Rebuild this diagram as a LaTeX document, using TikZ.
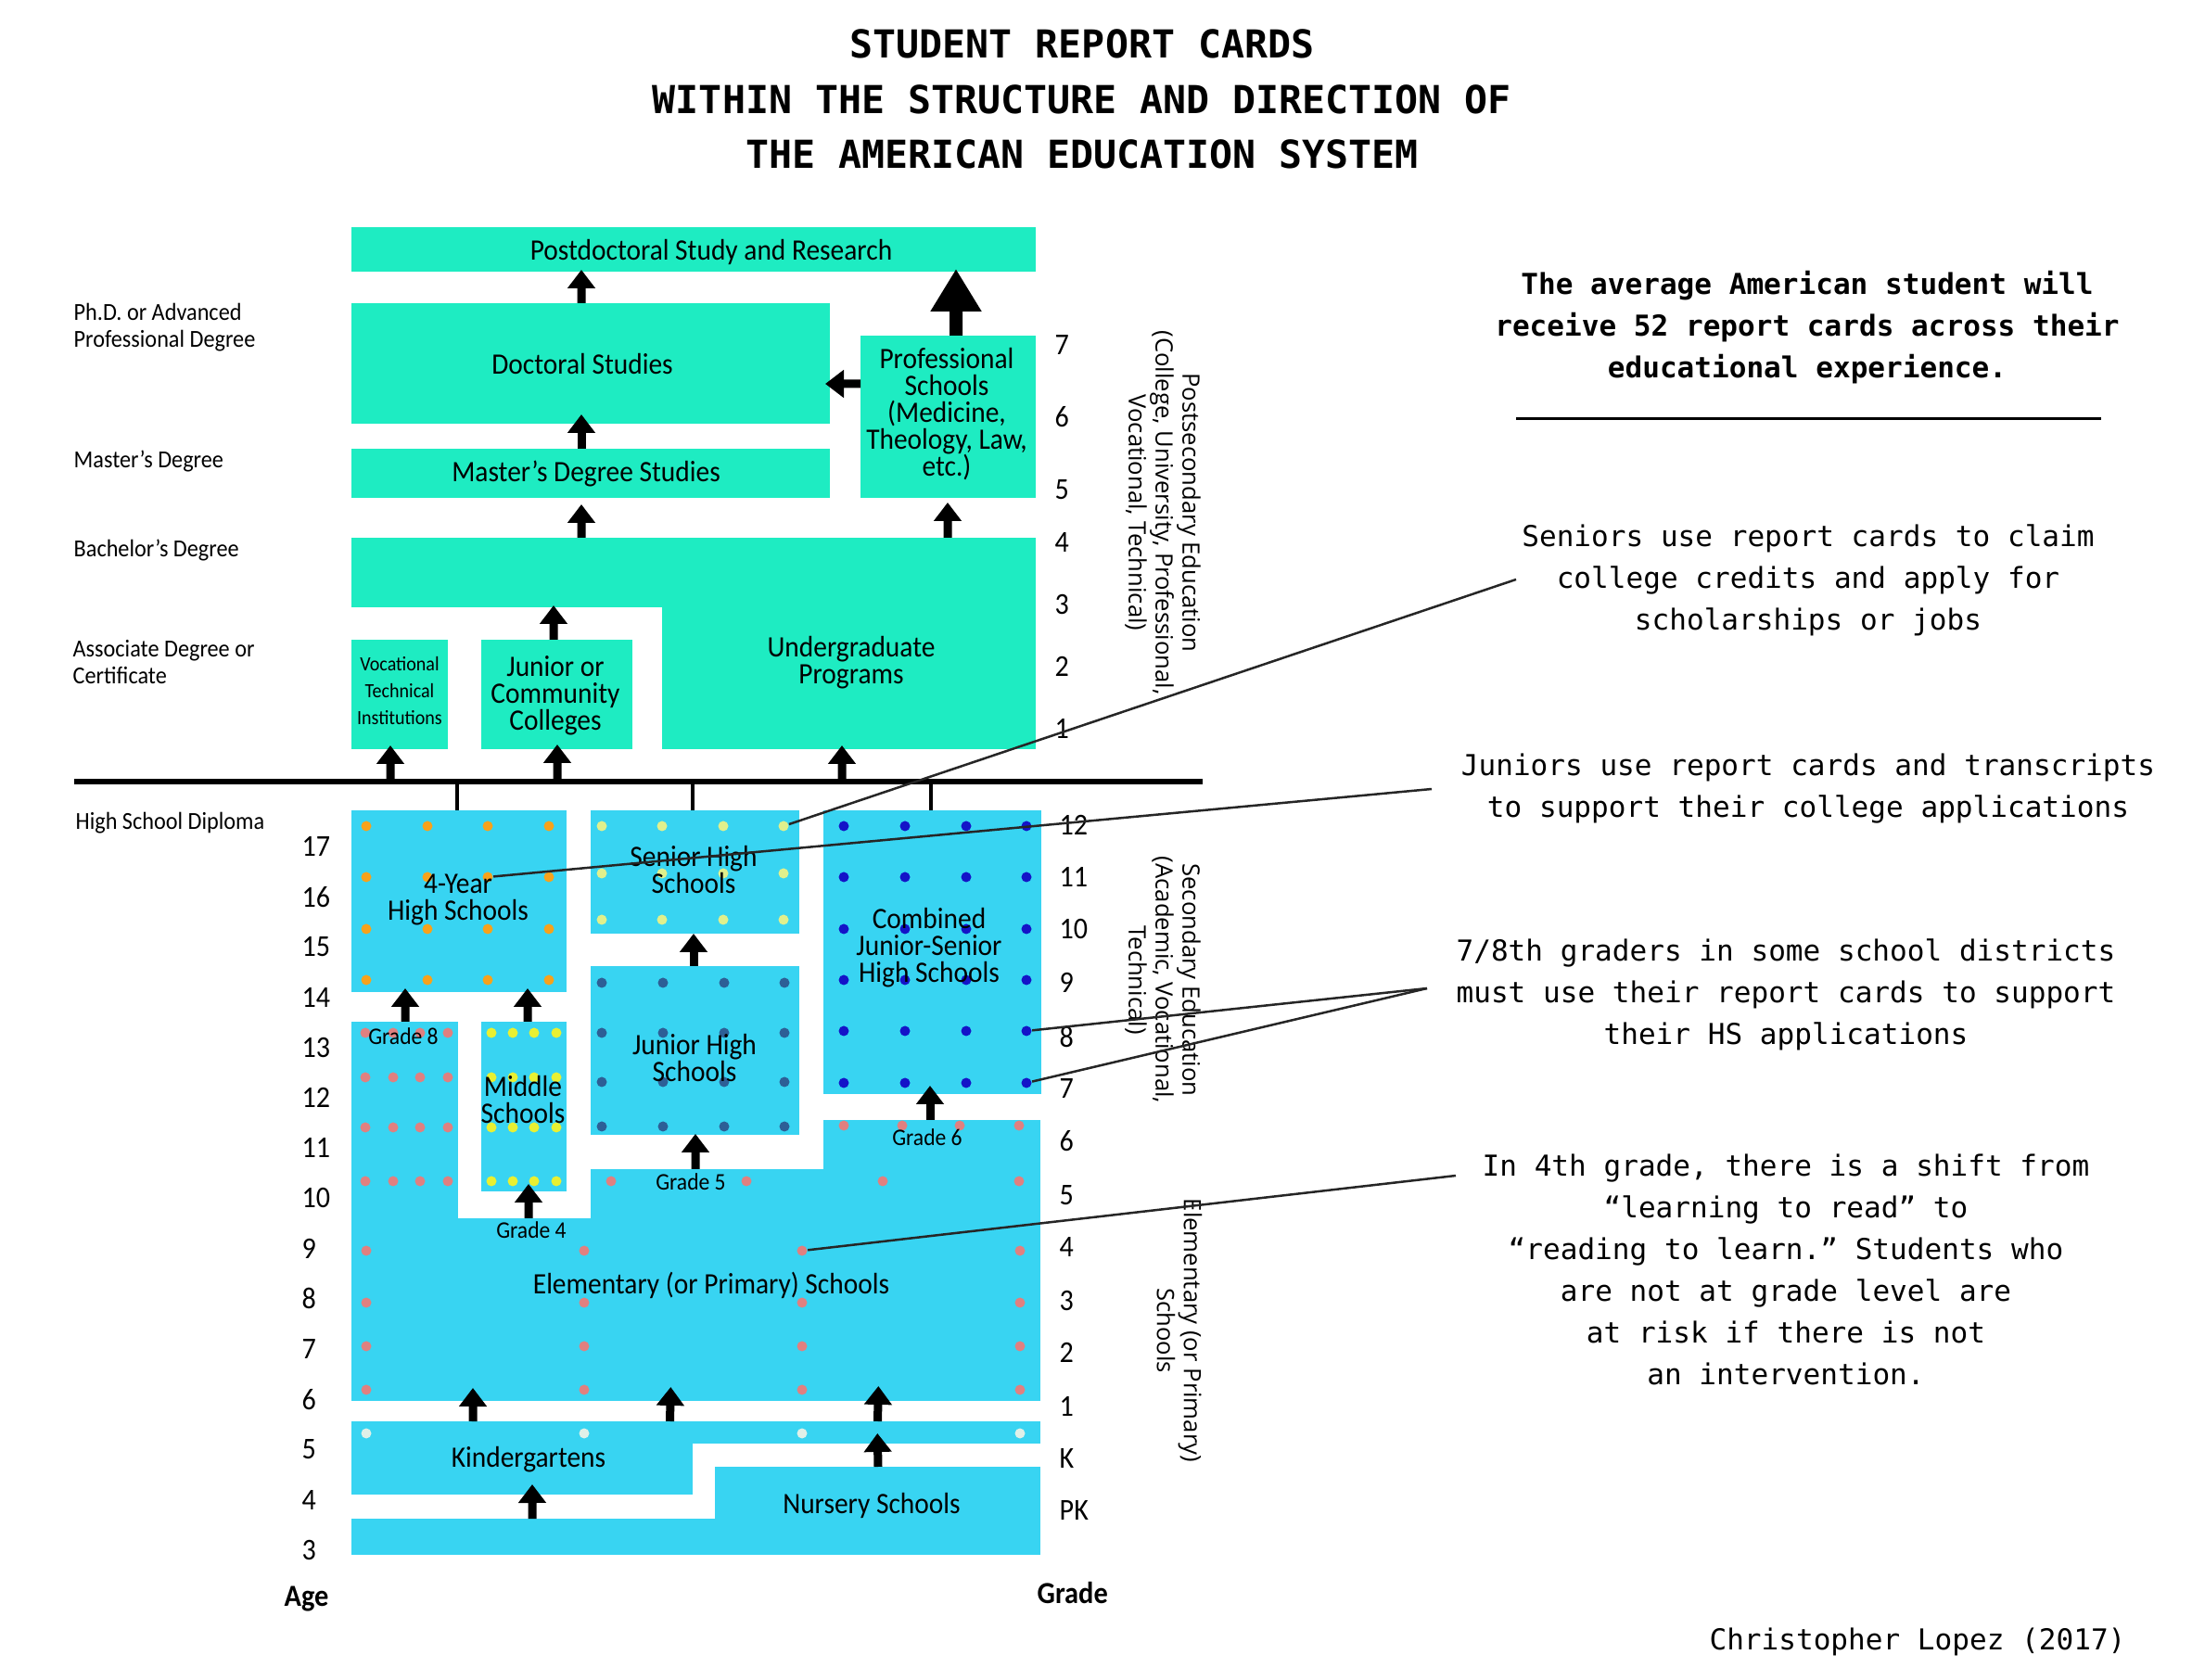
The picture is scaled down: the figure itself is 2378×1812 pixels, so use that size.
\documentclass[tikz,border=0pt]{standalone}
\usepackage{fontspec}
\setmainfont[FakeStretch=0.92]{Carlito}
\setmonofont{DejaVu Sans Mono}
\newfontfamily\sidefont{Open Sans}
\usetikzlibrary{arrows.meta}

\definecolor{highered}{HTML}{1EECC2}
\definecolor{schoolblue}{HTML}{38D4F2}
\definecolor{dotorange}{HTML}{F7A21B}
\definecolor{dotpale}{HTML}{E0F08C}
\definecolor{dotblue}{HTML}{1414C8}
\definecolor{dotsteel}{HTML}{2D5F96}
\definecolor{dotsalmon}{HTML}{E08080}
\definecolor{dotyellow}{HTML}{E8F032}
\definecolor{dotwhite}{HTML}{DFF0E8}

\tikzset{
    block/.style={inner sep=0pt, outer sep=0pt, minimum width=0pt, minimum height=0pt},
    boxtext/.style={inner sep=0pt, align=center, font=\fontsize{9.1pt}{8.25pt}\selectfont},
    smalltext/.style={inner sep=0pt, align=center, font=\fontsize{7.3pt}{8.25pt}\selectfont},
    tinytext/.style={inner sep=0pt, align=center, font=\fontsize{6.2pt}{8.25pt}\selectfont},
    sidetext/.style={inner sep=0pt, align=left, anchor=west, font=\fontsize{7.5pt}{8.25pt}\selectfont},
    ticktext/.style={inner sep=0pt, anchor=west, font=\fontsize{9.3pt}{8.25pt}\selectfont},
    headtext/.style={inner sep=0pt, anchor=west, font=\fontsize{9.4pt}{8.25pt}\selectfont\bfseries},
    levelname/.style={inner sep=0pt, align=center, rotate=-90, font=\sidefont\fontsize{7.3pt}{8.25pt}\selectfont},
    monotext/.style={inner sep=0pt, align=center, font=\ttfamily\fontsize{8.84pt}{12.8pt}\selectfont},
    titletext/.style={inner sep=0pt, align=center, font=\ttfamily\bfseries\fontsize{11.83pt}{17pt}\selectfont},
    schooldot/.style={circle, inner sep=0pt, minimum size=1.1mm},
    flow/.style={line width=0.9mm, -{Triangle[length=2mm,width=2.9mm]}},
    bigflow/.style={line width=1.4mm, -{Triangle[length=4.6mm,width=5.2mm]}},
    leader/.style={line width=0.25mm, draw=black!85},
}

% style, name, x1, y1, x2, y2
\newcommand{\block}[6]{%
    \pgfmathsetmacro\blockw{#5-#3}%
    \pgfmathsetmacro\blockh{#6-#4}%
    \node[block, fill=#1, minimum width=\blockw*0.1mm, minimum height=\blockh*0.1mm]
        (#2) at ({(#3+#5)/2}, {(#4+#6)/2}) {};%
}

\begin{document}
\begin{tikzpicture}[x=0.1mm,y=-0.1mm]
    \useasboundingbox (0,0) rectangle (2378,1812);

    % Title
    \node[titletext] (title) at (1167,107) {STUDENT REPORT CARDS\\WITHIN THE STRUCTURE AND DIRECTION OF\\THE AMERICAN EDUCATION SYSTEM};

    % Higher education
    \block{highered}{postdoc}{379}{245}{1117}{293}
    \block{highered}{doctoral}{379}{327}{895}{457}
    \block{highered}{prof}{928}{362}{1117}{537}
    \block{highered}{masters}{379}{484}{895}{537}
    \block{highered}{ugtop}{379}{580}{1117}{655}
    \block{highered}{ug}{714}{654}{1117}{808}
    \block{highered}{voc}{379}{690}{483}{808}
    \block{highered}{jc}{519}{690}{682}{808}

    % Secondary schools
    \block{schoolblue}{four}{379}{874}{611}{1070}
    \block{schoolblue}{senior}{637}{874}{862}{1007}
    \block{schoolblue}{combined}{888}{874}{1123}{1180}
    \block{schoolblue}{juniorh}{637}{1042}{862}{1224}
    \block{schoolblue}{middle}{519}{1102}{611}{1285}

    % Elementary, kindergarten, nursery
    \block{schoolblue}{eight}{379}{1102}{494}{1315}
    \block{schoolblue}{five}{637}{1261}{1122}{1315}
    \block{schoolblue}{six}{888}{1208}{1122}{1262}
    \block{schoolblue}{elem}{379}{1314}{1122}{1511}
    \block{schoolblue}{kinder}{379}{1533}{747}{1612}
    \block{schoolblue}{kstrip}{746}{1533}{1122}{1557}
    \block{schoolblue}{nursery}{771}{1582}{1122}{1639}
    \block{schoolblue}{prek}{379}{1638}{1122}{1677}

    % Diploma line
    \block{black}{bar}{80}{840}{1297}{846}
    \foreach \a/\b in {-19.55/four, 5.85/senior, 31.55/combined}
        \draw[line width=0.4mm] ([xshift=\a mm]bar.south) -- ([xshift=\a mm]bar.south |- \b.north);

    % Dots
    \foreach \x [count=\i] in {395,461,526,592}
        \foreach \y [count=\j] in {891,946,1002,1057}
            \node[schooldot, fill=dotorange] (fourdot\i\j) at (\x,\y) {};
    \foreach \x [count=\i] in {649,714,780,845}
        \foreach \y [count=\j] in {891,942,992}
            \node[schooldot, fill=dotpale] (seniordot\i\j) at (\x,\y) {};
    \foreach \x [count=\i] in {910,976,1042,1107}
        \foreach \y [count=\j] in {891,946,1002,1057,1112,1168}
            \node[schooldot, fill=dotblue] (combdot\i\j) at (\x,\y) {};
    \foreach \x [count=\i] in {649,715,781,846}
        \foreach \y [count=\j] in {1060,1114,1167,1215}
            \node[schooldot, fill=dotsteel] (juniordot\i\j) at (\x,\y) {};
    \foreach \x [count=\i] in {394,424,453,483}
        \foreach \y [count=\j] in {1114,1162,1216,1274}
            \node[schooldot, fill=dotsalmon] (eightdot\i\j) at (\x,\y) {};
    \foreach \x [count=\i] in {530,553,576,600}
        \foreach \y [count=\j] in {1114,1162,1216,1274}
            \node[schooldot, fill=dotyellow] (middledot\i\j) at (\x,\y) {};
    \foreach \x [count=\i] in {659,805,952,1099}
        \node[schooldot, fill=dotsalmon] (fivedot\i) at (\x,1274) {};
    \foreach \x [count=\i] in {910,973,1035,1099}
        \node[schooldot, fill=dotsalmon] (sixdot\i) at (\x,1214) {};
    \foreach \x [count=\i] in {395,630,865,1100} {
        \foreach \y [count=\j] in {1349,1405,1452,1499}
            \node[schooldot, fill=dotsalmon] (elemdot\i\j) at (\x,\y) {};
        \node[schooldot, fill=dotwhite] (kinddot\i) at (\x,1546) {};
    }

    % Box labels
    \node[boxtext] (postdoctext) at (767,272) {Postdoctoral Study and Research};
    \node[boxtext] (doctoraltext) at (628,393) {Doctoral Studies};
    \node[boxtext] (proftext) at (1021,447) {Professional\\Schools\\(Medicine,\\Theology, Law,\\etc.)};
    \node[boxtext] (masterstext) at (632,511) {Master’s Degree Studies};
    \node[boxtext] (ugtext) at (918,715) {Undergraduate\\Programs};
    \node[tinytext] (voctext) at (431,745) {Vocational\\Technical\\Institutions};
    \node[boxtext] (jctext) at (599,750) {Junior or\\Community\\Colleges};
    \node[boxtext] (fourtext) at (494,970) {4-Year\\High Schools};
    \node[boxtext] (seniortext) at (748,938) {Senior High\\Schools};
    \node[boxtext] (combtext) at (1002,1022) {Combined\\Junior-Senior\\High Schools};
    \node[boxtext] (juniortext) at (749,1141) {Junior High\\Schools};
    \node[boxtext] (middletext) at (564,1186) {Middle\\Schools};
    \node[boxtext] (elemtext) at (767,1386) {Elementary (or Primary) Schools};
    \node[boxtext] (kindertext) at (570,1574) {Kindergartens};
    \node[boxtext] (nurserytext) at (940,1624) {Nursery Schools};
    \node[smalltext] (gradeeight) at (435,1118) {Grade 8};
    \node[smalltext] (gradefour) at (573,1327) {Grade 4};
    \node[smalltext] (gradefive) at (745,1275) {Grade 5};
    \node[smalltext] (gradesix) at (1000,1227) {Grade 6};

    % Degrees
    \node[sidetext] (phd) at (79,353) {Ph.D. or Advanced\\Professional Degree};
    \node[sidetext] (mast) at (79,497) {Master’s Degree};
    \node[sidetext] (bach) at (79,593) {Bachelor’s Degree};
    \node[sidetext] (assoc) at (78,714) {Associate Degree or\\Certificate};
    \node[sidetext] (diploma) at (81,888) {High School Diploma};

    % Ages and grades
    \foreach \n [count=\i from 0] in {17,16,...,3}
        \node[ticktext] (age\n) at (325,913+54.2*\i) {\n};
    \foreach \n/\y in {7/372,6/450,5/528,4/585,3/652,2/719,1/786}
        \node[ticktext] (upper\n) at (1137,\y) {\n};
    \foreach \n/\y in {12/890,11/946,10/1002,9/1060,8/1118,7/1174,6/1231,5/1289,4/1345,3/1403,2/1459,1/1517,K/1573,PK/1629}
        \node[ticktext] (lower\n) at (1142,\y) {\n};
    \node[headtext] (agehead) at (306,1725) {Age};
    \node[headtext] (gradehead) at (1118,1718) {Grade};

    % Levels
    \node[levelname] (postsec) at (1254,553) {Postsecondary Education\\(College, University, Professional,\\Vocational, Technical)};
    \node[levelname] (second) at (1254,1057) {Secondary Education\\(Academic, Vocational,\\Technical)};
    \node[levelname] (primary) at (1272,1435) {Elementary (or Primary)\\Schools};

    % Arrows
    \foreach \a/\ax/\b/\bx/\s in {
        doctoral.north/-1/postdoc.south/-12.1/-0.2,
        masters.north/-1/doctoral.south/-1/-1,
        ugtop.north/-12.1/masters.south/-1/0.7,
        ugtop.north/27.4/prof.south/-0.05/0.5,
        jc.north/-0.35/ugtop.south/-15.1/-0.2,
        bar.south/-26.75/voc.south/-1/-0.4,
        bar.south/-8.75/jc.south/0.05/-0.5,
        bar.south/21.95/ug.south/-0.75/-0.4,
        eight.north/0.05/four.south/-5.8/-0.4,
        middle.north/0.4/four.south/7.4/-0.4,
        juniorh.north/-0.15/senior.south/-0.15/0,
        five.north/-12.95/juniorh.south/0.05/-0.1,
        six.north/-0.2/combined.south/-0.25/-0.9,
        elem.north/-18.05/middle.south/0.5/-0.8,
        kinder.north/-5.3/elem.south/-24.05/-1.4,
        kstrip.north/-21.15/elem.south/-2.75/-1.5,
        kstrip.north/1.25/elem.south/19.65/-1.6,
        nursery.north/0.05/kstrip.south/1.25/-1.1,
        prek.north/-17.65/kinder.south/1.1/-1.1}
        \draw[flow, shorten >=\s mm] ([xshift=\ax mm]\a) -- ([xshift=\bx mm]\b);
    \draw[flow, shorten >=-0.5mm] ([yshift=3.55mm]prof.west) -- ([yshift=-2.2mm]doctoral.east);
    \draw[bigflow, shorten >=-0.3mm] ([xshift=0.85mm]prof.north) -- ([xshift=28.3mm]postdoc.south);

    % Notes
    \node[monotext, font=\ttfamily\bfseries\fontsize{8.84pt}{12.8pt}\selectfont] (average) at (1949,353) {The average American student will\\receive 52 report cards across their\\educational experience.};
    \coordinate (ruleleft) at (1635,452);
    \coordinate (ruleright) at (2266,452);
    \draw[line width=0.3mm] (ruleleft) -- (ruleright);
    \node[monotext] (seniornote) at (1950,626) {Seniors use report cards to claim\\college credits and apply for\\scholarships or jobs};
    \node[monotext] (juniornote) at (1950,851) {Juniors use report cards and transcripts\\to support their college applications};
    \node[monotext] (gradernote) at (1926,1073) {7/8th graders in some school districts\\must use their report cards to support\\their HS applications};
    \node[monotext] (fourthnote) at (1926,1369) {In 4th grade, there is a shift from\\“learning to read” to\\“reading to learn.” Students who\\are not at grade level are\\at risk if there is not\\an intervention.};
    \node[monotext] (credit) at (2068,1771) {Christopher Lopez (2017)};

    % Leaders
    \coordinate (seniorend) at (1635,625);
    \coordinate (juniorend) at (1544,851);
    \coordinate (graderend) at (1539,1066);
    \coordinate (fourthend) at (1570,1268);
    \draw[leader] (seniorend) -- (seniordot41);
    \draw[leader] (juniorend) -- (fourdot32);
    \draw[leader] (graderend) -- (combdot45);
    \draw[leader] (graderend) -- (combdot46);
    \draw[leader] (fourthend) -- (elemdot31);
\end{tikzpicture}
\end{document}
